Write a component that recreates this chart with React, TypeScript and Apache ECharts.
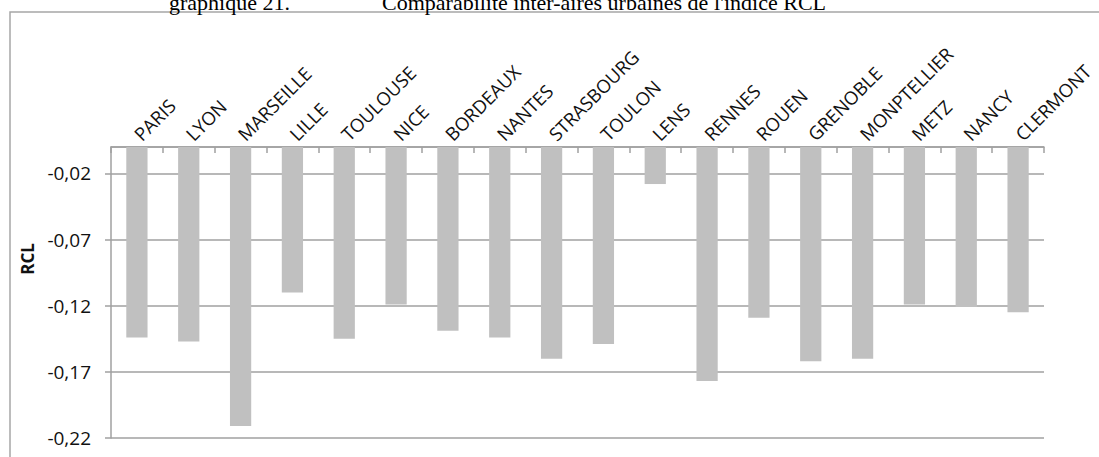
import React, { useEffect, useRef } from "react";
import * as echarts from "echarts";

const titleNumber = "graphique 21.";
const titleText = "Comparabilité inter-aires urbaines de l'indice RCL";
const yAxisName = "RCL";
const categories = [
  "PARIS", "LYON", "MARSEILLE", "LILLE", "TOULOUSE", "NICE", "BORDEAUX", "NANTES", "STRASBOURG",
  "TOULON", "LENS", "RENNES", "ROUEN", "GRENOBLE", "MONPTELLIER", "METZ", "NANCY", "CLERMONT",
];
const rclValues = [
  -0.144, -0.147, -0.211, -0.110, -0.145, -0.119, -0.139, -0.144, -0.160,
  -0.149, -0.028, -0.177, -0.129, -0.162, -0.160, -0.119, -0.121, -0.125,
];
const yMin = -0.22;
const yMax = 0;
const yStep = 0.05;

export default function App() {
  const ref = useRef<HTMLDivElement>(null);
  useEffect(() => {
    document.body.style.margin = "0";
    const chart = echarts.init(ref.current!, null, { renderer: "svg" });
    const font = "'Open Sans', sans-serif";
    chart.setOption({
      animation: false,
      backgroundColor: "#ffffff",
      grid: { left: 111, right: 55, top: 147, bottom: 19, containLabel: false },
      xAxis: {
        type: "category",
        data: categories,
        position: "top",
        axisLine: { onZero: false, lineStyle: { color: "#a0a0a0", width: 1.5 } },
        axisTick: { show: true, inside: true, length: 6, lineStyle: { color: "#a0a0a0", width: 1.5 } },
        axisLabel: { rotate: -45, margin: 10, color: "#111", fontFamily: font, fontSize: 18.5, interval: 0 },
        splitLine: { show: false },
      },
      yAxis: {
        type: "value",
        min: yMin,
        max: yMax,
        interval: yStep,
        axisLine: { show: true, lineStyle: { color: "#a0a0a0", width: 1.5 } },
        axisTick: { show: true, length: 6, lineStyle: { color: "#a0a0a0", width: 1.5 } },
        axisLabel: {
          showMaxLabel: false,
          margin: 20,
          color: "#111",
          fontFamily: font,
          fontSize: 19,
          formatter: (v: number) => v.toFixed(2).replace(".", ","),
        },
        splitLine: { show: true, lineStyle: { color: "#a0a0a0", width: 1.5 } },
      },
      series: [
        {
          type: "bar",
          data: rclValues,
          barCategoryGap: "59%",
          itemStyle: { color: "#c0c0c0" },
        },
      ],
      graphic: [
        {
          type: "rect",
          shape: { x: 10, y: 12, width: 1300, height: 700 },
          style: { fill: "none", stroke: "#a6a6a6", lineWidth: 1.5 },
          silent: true,
        },
        {
          type: "text",
          x: 290,
          y: 13,
          style: {
            text: titleNumber,
            font: "22px 'Liberation Serif', serif",
            fill: "#000",
            align: "right",
            verticalAlign: "bottom",
          },
        },
        {
          type: "text",
          x: 382,
          y: 13,
          style: {
            text: titleText,
            font: "22px 'Liberation Serif', serif",
            fill: "#000",
            align: "left",
            verticalAlign: "bottom",
          },
        },
        {
          type: "text",
          x: 27,
          y: 259,
          rotation: Math.PI / 2,
          style: {
            text: yAxisName,
            font: "bold 17px 'Open Sans', sans-serif",
            fill: "#111",
            align: "center",
            verticalAlign: "middle",
          },
        },
      ],
    });
    return () => chart.dispose();
  }, []);
  return <div ref={ref} style={{ width: 1099, height: 457 }} />;
}
